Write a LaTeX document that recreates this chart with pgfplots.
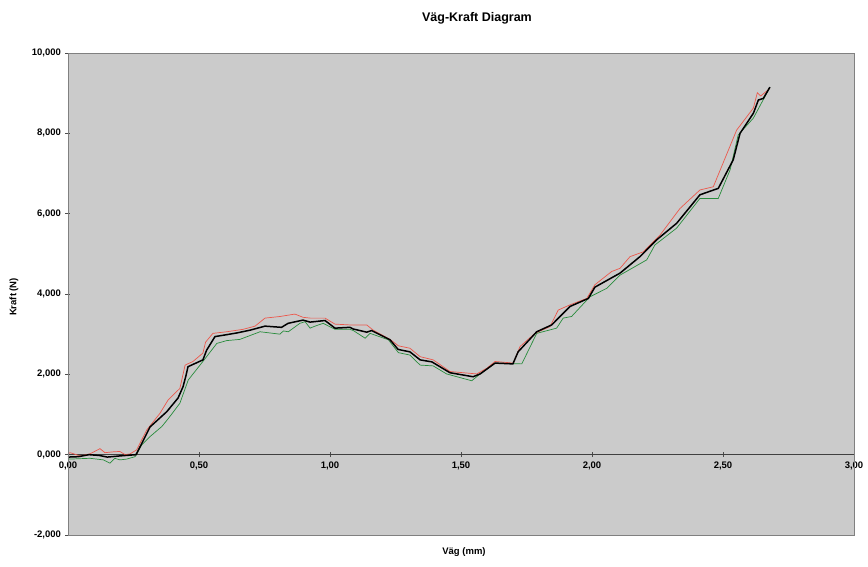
\documentclass[border=0pt]{standalone}
\usepackage{fontspec}
\setmainfont{Liberation Sans}
\usepackage{pgfplots}
\pgfplotsset{compat=1.18}
\definecolor{bgGray}{RGB}{203,203,203}
\definecolor{frameGray}{RGB}{128,128,128}
\definecolor{lineRed}{RGB}{236,88,76}
\definecolor{lineGreen}{RGB}{40,140,60}
\begin{document}
\begin{tikzpicture}
\path[use as bounding box] (0,0) rectangle (868pt,566pt);
\begin{axis}[
  at={(68pt,31pt)}, anchor=south west,
  scale only axis, width=786pt, height=482pt,
  xmin=0, xmax=3, ymin=-2000, ymax=10000,
  scaled y ticks=false, scaled x ticks=false,
  axis x line=middle, axis y line=left,
  axis line style={-, draw=black!75, line width=0.7pt},
  hide obscured x ticks=false, hide obscured y ticks=false,
  xtick={0,0.5,1,1.5,2,2.5,3},
  xticklabels={{0,00},{0,50},{1,00},{1,50},{2,00},{2,50},{3,00}},
  ytick={-2000,0,2000,4000,6000,8000,10000},
  yticklabels={{-2,000},{0,000},{2,000},{4,000},{6,000},{8,000},{10,000}},
  tick align=center, major tick length=5pt,
  tick style={black!70, line width=0.6pt},
  tick label style={font=\bfseries\fontsize{9.5}{11}\selectfont},
  xticklabel style={yshift=-1pt},
  yticklabel style={xshift=-1pt},
  axis background/.style={fill=bgGray},
  clip=false,
]
\addplot[lineGreen, line width=0.7pt] coordinates {
(0.000,-100) (0.008,-110) (0.084,-90) (0.135,-130) (0.160,-210) (0.179,-90) (0.198,-130) (0.224,-110) (0.256,-50)
(0.281,240) (0.313,450) (0.358,700) (0.383,900) (0.427,1280) (0.459,1860) (0.504,2230) (0.529,2440)
(0.568,2770) (0.606,2840) (0.656,2870) (0.733,3060) (0.809,3000) (0.822,3080) (0.841,3060) (0.885,3270)
(0.905,3310) (0.924,3150) (0.943,3200) (0.974,3270) (1.019,3120) (1.076,3120) (1.089,3090) (1.134,2900)
(1.153,3020) (1.223,2860) (1.261,2540) (1.305,2480) (1.344,2230) (1.394,2210) (1.445,2010) (1.541,1840)
(1.573,2010) (1.630,2280) (1.732,2260) (1.789,3020) (1.865,3150) (1.890,3400) (1.922,3440) (1.992,3930)
(2.056,4140) (2.107,4470) (2.209,4850) (2.240,5220) (2.323,5640) (2.412,6380) (2.482,6380) (2.527,7090)
(2.558,7960) (2.616,8380) (2.667,9000) (2.679,9150)
};
\addplot[lineRed, line width=0.7pt] coordinates {
(0.000,20) (0.008,50) (0.046,-30) (0.084,20) (0.122,150) (0.141,50) (0.172,70) (0.198,80) (0.218,0) (0.237,20)
(0.262,120) (0.300,610) (0.351,1030) (0.382,1360) (0.427,1650) (0.447,2230) (0.477,2320) (0.515,2530)
(0.525,2800) (0.553,3020) (0.606,3060) (0.668,3120) (0.714,3200) (0.752,3400) (0.809,3440) (0.866,3500)
(0.897,3420) (0.924,3400) (0.981,3400) (1.019,3250) (1.076,3230) (1.140,3230) (1.165,3100) (1.229,2870)
(1.261,2710) (1.305,2650) (1.344,2440) (1.394,2360) (1.458,2070) (1.509,2040) (1.560,2010) (1.598,2150)
(1.630,2320) (1.700,2280) (1.725,2690) (1.782,3020) (1.840,3190) (1.871,3600) (1.916,3730) (1.980,3890)
(2.011,4230) (2.075,4560) (2.107,4640) (2.145,4930) (2.196,5050) (2.260,5470) (2.336,6130) (2.412,6590)
(2.463,6670) (2.552,8080) (2.616,8630) (2.631,9010) (2.644,8930) (2.679,9120)
};
\addplot[black, line width=1.5pt] coordinates {
(0.000,-60) (0.040,-50) (0.080,0) (0.120,-20) (0.150,-60) (0.200,-30) (0.260,0) (0.313,690) (0.377,1070)
(0.420,1410) (0.439,1690) (0.450,1960) (0.458,2190) (0.515,2360) (0.529,2600) (0.561,2940) (0.599,2980)
(0.644,3030) (0.695,3100) (0.752,3200) (0.815,3170) (0.840,3270) (0.897,3350) (0.924,3300) (0.981,3340)
(1.019,3150) (1.076,3170) (1.088,3130) (1.140,3050) (1.159,3090) (1.229,2860) (1.260,2620) (1.305,2560)
(1.344,2360) (1.389,2310) (1.458,2040) (1.546,1940) (1.573,2010) (1.611,2190) (1.630,2280) (1.698,2260)
(1.718,2560) (1.789,3060) (1.846,3230) (1.916,3690) (1.986,3890) (2.011,4170) (2.107,4520) (2.183,4930)
(2.247,5350) (2.323,5760) (2.412,6470) (2.482,6630) (2.539,7340) (2.565,8000) (2.616,8500) (2.635,8830)
(2.654,8870) (2.679,9150)
};
\draw[frameGray, line width=0.9pt] (rel axis cs:0,0) rectangle (rel axis cs:1,1);
\end{axis}
\node[font=\bfseries\fontsize{12.5}{14}\selectfont] at (477pt,548pt) {Väg-Kraft Diagram};
\node[font=\bfseries\fontsize{9.5}{11}\selectfont] at (464pt,14pt) {Väg (mm)};
\node[font=\bfseries\fontsize{9.5}{11}\selectfont, rotate=90] at (14pt,269pt) {Kraft (N)};
\end{tikzpicture}
\end{document}
